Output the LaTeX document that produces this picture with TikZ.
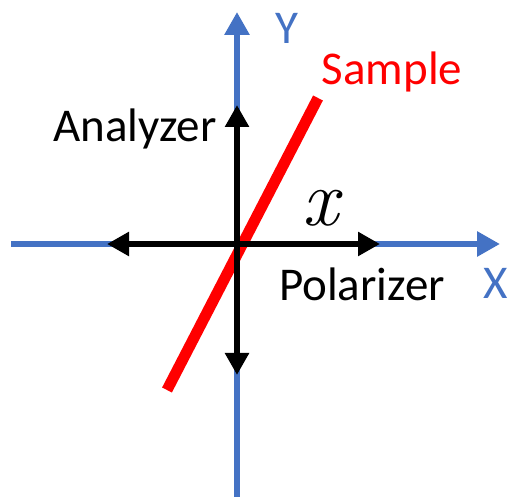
\documentclass[tikz,border=0pt]{standalone}
\usepackage{fontspec}
\setmainfont{Carlito}
\newfontfamily\chifont{Latin Modern Roman}
\usepackage{tikz}
\usetikzlibrary{arrows.meta, positioning}
\definecolor{axisblue}{RGB}{68, 114, 196}
\definecolor{samplered}{RGB}{255, 0, 0}

\begin{document}
\begin{tikzpicture}[
			x=1pt, y=-1pt,
			axis/.style={draw=axisblue, line width=6pt, -{Triangle[length=23pt, width=24pt]}},
			pol/.style={draw=black, line width=6.5pt, {Triangle[length=22pt, width=23pt]}-{Triangle[length=22pt, width=23pt]}},
			sample/.style={draw=samplered, line width=11pt},
			label/.style={font=\fontsize{47}{56}\selectfont, inner sep=0pt}
		]
		\useasboundingbox (0,0) rectangle (512,497);
		% Lab axes
		\coordinate (xleft) at (11,244);
		\coordinate (xright) at (500,244);
		\coordinate (ybottom) at (237,497);
		\coordinate (ytop) at (237,12);
		\draw[axis] (xleft) -- (xright);
		\draw[axis] (ybottom) -- (ytop);
		\node[label, text=axisblue] (xname) at (496,283) {X};
		\node[label, text=axisblue] (yname) at (287,28) {Y};
		
		% Sample
		\coordinate (sbottom) at (167,390);
		\coordinate (stop) at (318,98);
		\draw[sample] (sbottom) -- (stop);
		\node[label, text=samplered, anchor=base] (samplename) at (392,85) {Sample};
		
		% Polarizer and analyzer
		\coordinate (pleft) at (107,244);
		\coordinate (pright) at (380,244);
		\coordinate (abottom) at (237,375);
		\coordinate (atop) at (237,105);
		\draw[pol] (pleft) -- (pright);
		\draw[pol] (abottom) -- (atop);
		\node[label, anchor=base] (polname) at (362,301) {Polarizer};
		\node[label, anchor=base] (ananame) at (135,142) {Analyzer};
		\node[font=\fontsize{80}{88}\chifont\itshape, inner sep=0pt] (chi) at (320,208) {x};
		\end{tikzpicture}
\end{document}
